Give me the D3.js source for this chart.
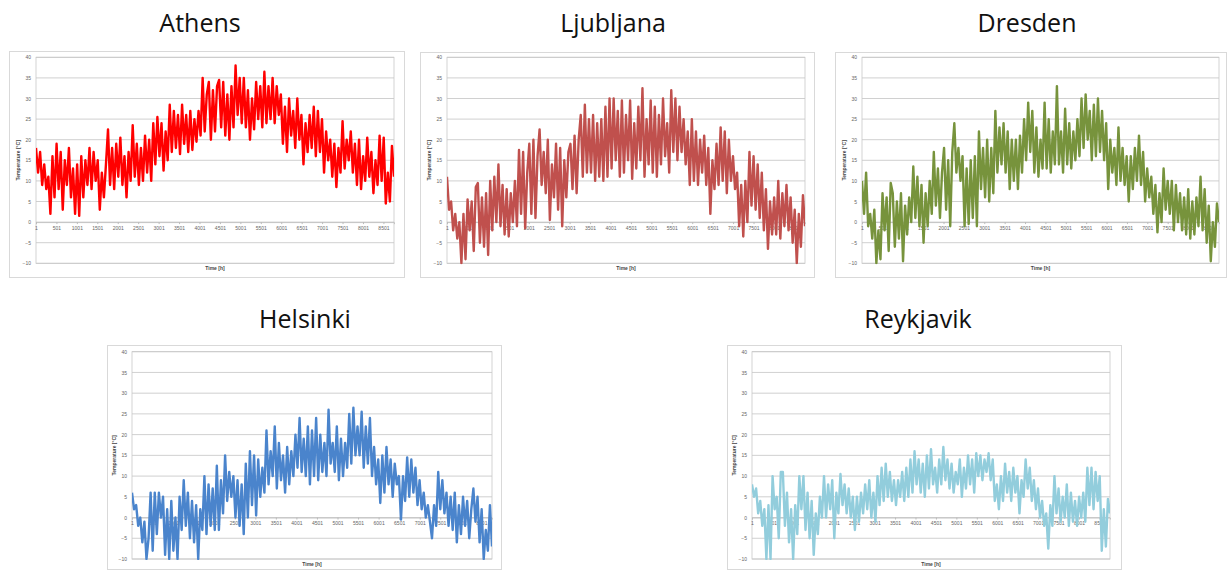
<!DOCTYPE html>
<html>
<head>
<meta charset="utf-8">
<script src="https://cdn.jsdelivr.net/npm/d3@7"></script>
<style>
  body { margin: 0; background: #fff; }
  svg { display: block; }
</style>
</head>
<body>
<script>
// Constantes de la visualización
const WIDTH = 1230;
const HEIGHT = 570;
const HORAS = 8760;

const CIUDADES = ["Athens", "Ljubljana", "Dresden", "Helsinki", "Reykjavik"];
const COLORES = ["#ff0000", "#c0504d", "#77933c", "#4a84cc", "#92cddc"];
const TICKS_Y = [-10, -5, 0, 5, 10, 15, 20, 25, 30, 35, 40];
const TICKS_X = [1, 501, 1001, 1501, 2001, 2501, 3001, 3501, 4001, 4501, 5001, 5501, 6001, 6501, 7001, 7501, 8001, 8501];

// Temperaturas (muestras equiespaciadas a lo largo del año)
const athens = [
  18, 12, 17, 9, 14, 8, 11, 2, 16, 6, 19, 8, 17, 3, 15, 9, 18, 6, 13, 2,
  14, 1.5, 16, 6, 15, 9, 18, 8, 17, 10, 15, 3, 12, 6, 14, 22.5, 9, 18, 8, 19,
  11, 20.5, 9, 16, 6, 17, 10, 23.5, 11, 19, 9, 18, 10, 21, 12, 20, 10, 24, 14, 25.5,
  16, 24, 12.5, 22, 15, 28.5, 17, 27, 18, 26, 16.5, 28.5, 19, 26, 17, 27, 17.5, 25, 19.5, 27,
  21, 35, 22, 31, 34, 20, 32, 22, 33, 34.5, 23, 34, 21, 31, 20, 33, 23, 38, 26, 35,
  24, 35, 23, 32, 20, 30, 22.5, 34, 25, 33, 23, 36.5, 24, 33, 25, 35, 24, 33, 26, 31,
  19, 28, 17, 30, 21, 27, 18, 30, 20, 26, 14, 24, 17, 26, 18, 28, 16, 27, 17, 25,
  12, 22, 15, 20, 11, 19, 8.5, 18, 12, 24.5, 13, 20, 15, 22, 12, 19, 9, 20, 8, 16,
  10, 20.5, 11, 17, 7, 15, 9, 21, 10, 20.5, 4.5, 12, 5, 18.5, 11
];
const ljubljana = [
  11, 3, 5, -2, 2, -4, 0, -10, 2, -9, 5.5, -2, 5, -7, 8.5, 9.5, -5, 6, -6, 7,
  -8, 10, -2, 11, 0, 14, -1, 9, -3, 8, -3.5, 7, 0, 10, -1, 17.5, 2, 17, -1.5, 12,
  19, 2, 20, 1, 16, 22.5, 9, 17, 7, 20, 0.5, 14, 6, 19, 3, 18, -1, 15, 6, 17,
  19, 8, 21, 7, 20, 26, 11, 28.5, 12, 25, 12, 26, 10, 24, 11, 25, 10, 28, 11, 30,
  13, 30, 15, 27, 11, 29.5, 12, 26, 15, 29.5, 10.5, 24, 13, 28, 15, 32.5, 11, 25, 14, 29.5,
  12, 28, 11, 26, 14, 30, 16, 24, 12, 32, 17, 30, 15, 28, 17, 25, 14, 22, 9, 25,
  10, 22, 9, 20, 12, 21, 9, 18, 2, 15, 8, 19, 9, 23, 10, 22, 7, 20, 10, 16,
  8, 12, -1, 9, -3.5, 10, 0, 17, 4, 16, 3, 14, 1, 12, -2, 8, -6.5, 5, -3, 6,
  -3, 10, -4, 7, -1, 9, -2, 6, -5, 3, -10, 2, -6, 6.5, -1
];
const dresden = [
  10, 2, 12, -1, 2, -4, 3, -10, -2, -9, 7, -2, 6, -7, 9.5, 7, -6, 5, -4, 7,
  -9.5, 4, -3, 6, 0, 13.5, 1, 11, -1, 9, -5, 7, -1, 10, 2, 17, 4, 13, 1, 12,
  18, 3, 15, -1, 17, 24, 12, 18, 10, 16, -1, 13, -0.5, 15, 1, 16, -1, 22, 8, 18,
  6, 20, 5, 18, 7, 27, 12, 23, 14, 24, 12, 22, 8, 20, 10, 20, 8, 21, 12, 25,
  15, 29, 17, 27, 12, 23, 11, 20, 13, 29, 13, 25, 12, 22, 14, 33, 14, 22, 12, 27.5,
  14, 24, 13, 22, 15, 25, 16, 30, 18, 31, 20, 27, 15, 28.5, 16, 30, 17, 27, 15, 24,
  8, 20, 12, 18, 9, 23, 10, 18, 9, 16, 5, 16, 8, 18, 10, 21, 9, 17, 5, 13,
  6, 11, 2, 9, -2.5, 7, 0, 13, 3, 10, 2, 10, -2, 9, 0, 7, -2, 6, -3, 8,
  -4, 5, -3, 6, -1, 11, -2, 8, -5, 4, -9.5, 0, -6, 4.5, 0
];
const helsinki = [
  6, 2, 3, -2, 0, -6, -1, -10, -5, 6, -8, 6, -4, 6, 0, 5, -9, 2, -10, 4,
  -8, 0, -10, 5, -3, 9, -2, 6, -5, 4, -6, 3, -10, 2, -3, 10, -4, 8, -2, 7,
  -3, 12.5, -3, 9, 1, 15, 4, 11, 5, 10, 0, 9, -2, 8, -4, 13, 0, 16, 3, 15,
  0.5, 14, 5, 12, 6, 21, 8, 16, 10, 22, 7, 18, 9, 15, 6, 17, 8, 16, 10, 20,
  12, 24, 11, 19, 10, 22, 8, 21, 10, 24, 9, 20, 11, 18, 10, 26, 13, 18, 11, 22,
  9, 19, 10, 18, 12, 25, 13, 26.5, 15, 22, 15, 25.5, 12, 22, 13, 24, 10, 17, 8, 14,
  3.5, 15, 6, 17, 8, 14, 5, 13, 8, 10, -0.5, 10, 4, 14.5, 5, 14, 6, 12, 3, 9,
  2, 6, 0, 3, -1, -5, 3, -2, 11, 2, 9, 1, 6, -2, 5, -3, 6, -6, 3, -4,
  5, -2, 4, -5, 2, 7, -1, 5, -6, 2, -10, -3, -8, 3, -7
];
const reykjavik = [
  8, 5, 7, 1, 4, -2, 2, -10, 3, -10, 10, 2, 5, -5, 11, 11, -2, 6, -6, 2,
  -10, 3, -4, 10, 2, 10, -3, 6, -5, 4, -9, 1, -4, 5, 0, 10, 0, 8, 2, 9,
  -5, 6, 1, 10.5, 3, 8, 1, 7, 0, 5, -3, 5, -1, 6, 1, 8, 2, 9, 0, 6,
  -1, 10, 3, 12, 4, 13, 5, 11, 4, 9, 3, 9, 5, 11, 4, 12, 5, 14, 6, 16,
  8, 14, 6, 13, 5, 15, 7, 16.5, 8, 12, 6, 14, 8, 17, 9, 14, 7, 13, 6, 11,
  8, 14, 5, 12, 7, 15, 8, 14, 6, 15.5, 10, 15, 9, 14, 11, 15.5, 9, 14, 4, 8,
  2, 10, 4, 13, 6, 11, 4, 12, 6, 10, 1, 9, 5, 14, 7, 12, 4, 9, 2, 7,
  0, 4, -2, 1, -7.5, 3, -2, 10, 1, 7, -1, 5, 0, 8, -2, 6, -1, 4, -2, 5,
  0, 6, -1, 12, 3, 12, 2, 11, 4, 10, -8, 2, -7, 4.5, 1
];
const SERIES = [athens, ljubljana, dresden, helsinki, reykjavik];

// Posición de cada panel: marco, área de gráfico y título
const PANELES = [
  { marco: [9, 51, 404, 277], plot: [36, 57.3, 394, 263.3], titulo: [200, 32] },
  { marco: [420, 52, 814, 277], plot: [447, 57.3, 805, 263.3], titulo: [613, 32] },
  { marco: [835, 52, 1226, 277], plot: [862, 57.3, 1219, 263.3], titulo: [1027, 32] },
  { marco: [107, 345, 501, 569], plot: [132, 351.7, 492, 559], titulo: [305, 328] },
  { marco: [727, 345, 1121, 569], plot: [752, 351.7, 1110, 559], titulo: [918, 328] },
];

const svg = d3.select("body")
  .append("svg")
  .attr("width", WIDTH)
  .attr("height", HEIGHT);

PANELES.forEach((p, idx) => {
  const [x0, y0, x1, y1] = p.plot;
  const g = svg.append("g");

  // Marco del gráfico
  g.append("rect")
    .attr("x", p.marco[0] + 0.5)
    .attr("y", p.marco[1] + 0.5)
    .attr("width", p.marco[2] - p.marco[0])
    .attr("height", p.marco[3] - p.marco[1])
    .attr("fill", "white")
    .attr("stroke", "#d9d9d9");

  // Título
  g.append("text")
    .attr("x", p.titulo[0])
    .attr("y", p.titulo[1])
    .attr("text-anchor", "middle")
    .attr("font-family", "Open Sans")
    .attr("font-size", 25)
    .attr("fill", "#111")
    .text(CIUDADES[idx]);

  const escalaX = d3.scaleLinear().domain([1, HORAS]).range([x0, x1]);
  const escalaY = d3.scaleLinear().domain([-10, 40]).range([y1, y0]);

  // Líneas de grilla
  g.append("g")
    .selectAll("line")
    .data(TICKS_Y)
    .join("line")
    .attr("x1", x0)
    .attr("x2", x1)
    .attr("y1", (d) => escalaY(d))
    .attr("y2", (d) => escalaY(d))
    .attr("stroke", "#c4c4c4")
    .attr("stroke-width", 0.8);

  g.append("rect")
    .attr("x", x0)
    .attr("y", y0)
    .attr("width", x1 - x0)
    .attr("height", y1 - y0)
    .attr("fill", "none")
    .attr("stroke", "#c8c8c8")
    .attr("stroke-width", 0.8);

  // Eje Y
  const ejeY = g.append("g")
    .attr("transform", `translate(${x0}, 0)`)
    .call(d3.axisLeft(escalaY).tickValues(TICKS_Y).tickSize(0).tickPadding(5));
  ejeY.select(".domain").remove();
  ejeY.selectAll("text")
    .attr("font-family", "Liberation Sans")
    .attr("font-size", 5)
    .attr("fill", "#666");

  // Eje X, cruza en 0 como en Excel
  const ejeX = g.append("g")
    .attr("transform", `translate(0, ${escalaY(0)})`)
    .call(d3.axisBottom(escalaX).tickValues(TICKS_X).tickFormat(d3.format("d")).tickSize(2).tickPadding(2));
  ejeX.select(".domain").attr("stroke", "#bbb").attr("stroke-width", 0.8);
  ejeX.selectAll(".tick line").attr("stroke", "#bbb");
  ejeX.selectAll("text")
    .attr("font-family", "Liberation Sans")
    .attr("font-size", 5)
    .attr("fill", "#666");

  // Serie de temperatura
  const datos = SERIES[idx];
  const paso = (HORAS - 1) / (datos.length - 1);
  const linea = d3.line()
    .x((d, i) => escalaX(1 + i * paso))
    .y((d) => escalaY(d));

  g.append("clipPath")
    .attr("id", `clip${idx}`)
    .append("rect")
    .attr("x", x0)
    .attr("y", y0 - 1)
    .attr("width", x1 - x0)
    .attr("height", y1 - y0 + 2);

  g.append("path")
    .datum(datos)
    .attr("clip-path", `url(#clip${idx})`)
    .attr("d", linea)
    .attr("fill", "none")
    .attr("stroke", COLORES[idx])
    .attr("stroke-width", 2.4)
    .attr("stroke-linejoin", "round");

  // Títulos de ejes
  g.append("text")
    .attr("transform", `translate(${x0 - 16}, ${(y0 + y1) / 2}) rotate(-90)`)
    .attr("text-anchor", "middle")
    .attr("font-family", "Liberation Sans")
    .attr("font-weight", "bold")
    .attr("font-size", 5)
    .attr("fill", "#444")
    .text("Temperature [°C]");

  g.append("text")
    .attr("x", (x0 + x1) / 2)
    .attr("y", y1 + 6.5)
    .attr("text-anchor", "middle")
    .attr("font-family", "Liberation Sans")
    .attr("font-weight", "bold")
    .attr("font-size", 5)
    .attr("fill", "#444")
    .text("Time [h]");
});
</script>
</body>
</html>
